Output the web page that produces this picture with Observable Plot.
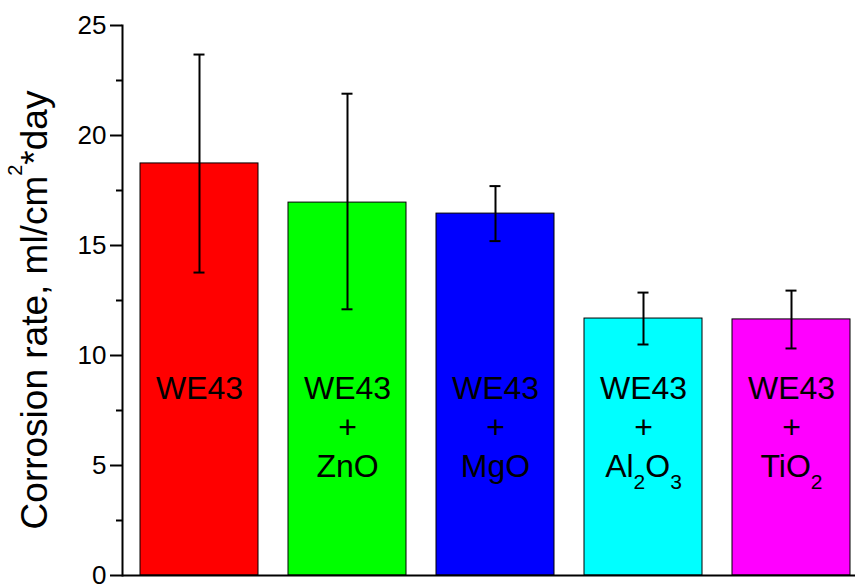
<!DOCTYPE html>
<html>
<head>
<meta charset="utf-8">
<script src="https://cdn.jsdelivr.net/npm/d3@7"></script>
<script src="https://cdn.jsdelivr.net/npm/@observablehq/plot@0.6"></script>
<style>
  html, body { margin: 0; padding: 0; background: #fff; }
  #chart { width: 855px; height: 584px; }
</style>
</head>
<body>
<div id="chart"></div>
<script>
// ---- data ----
const categories = ["WE43", "WE43+ZnO", "WE43+MgO", "WE43+Al2O3", "WE43+TiO2"];
const additives = ["", "ZnO", "MgO", "Al2O3", "TiO2"];
const meanRate = [18.73, 16.95, 16.45, 11.68, 11.64];
const errLow = [13.77, 12.1, 15.2, 10.5, 10.32];
const errHigh = [23.68, 21.9, 17.7, 12.86, 12.95];
const barColors = ["#ff0000", "#00ff00", "#0000ff", "#00ffff", "#ff00ff"];
const yTicks = [0, 5, 10, 15, 20, 25];
const yMinorTicks = [2.5, 7.5, 12.5, 17.5, 22.5];
const yTitle = ["Corrosion rate, ml/cm", "2", "*day"];

const rows = categories.map((c, i) => ({
  cat: c,
  add: additives[i],
  mean: meanRate[i],
  lo: errLow[i],
  hi: errHigh[i],
  color: barColors[i],
  label: additives[i] ? "WE43\n+\n" + additives[i] : "WE43"
}));

const LABEL_Y = 9.3;
const FONT = "'Liberation Sans', Arial, Helvetica, sans-serif";

const plot = Plot.plot({
  width: 855,
  height: 584,
  marginLeft: 122,
  marginRight: 0,
  marginTop: 25,
  marginBottom: 9,
  style: { fontFamily: FONT, background: "white", color: "black", overflow: "visible" },
  x: { domain: categories, range: [122, 869], paddingInner: 0.2, paddingOuter: 0.11, axis: null },
  y: { domain: [0, 25], label: null },
  marks: [
    Plot.barY(rows, { x: "cat", y: "mean", fill: "color", stroke: "black", strokeWidth: 1 }),
    Plot.ruleX(rows, { x: "cat", y1: "lo", y2: "hi", stroke: "black", strokeWidth: 2 }),
    Plot.tickY(rows, { x: "cat", y: "hi", stroke: "black", strokeWidth: 2, insetLeft: 53.5, insetRight: 53.5 }),
    Plot.tickY(rows, { x: "cat", y: "lo", stroke: "black", strokeWidth: 2, insetLeft: 53.5, insetRight: 53.5 }),
    Plot.text(rows, { x: "cat", y: () => LABEL_Y, text: "label", lineAnchor: "top", lineHeight: 1.22, fontSize: 32, fill: "black" }),
    Plot.axisY({ ticks: yTicks, tickSize: 12, tickPadding: 4, fontSize: 26, strokeWidth: 2, stroke: "black", fill: "black", label: null }),
    Plot.axisY({ ticks: yMinorTicks, tickSize: 6, text: null, strokeWidth: 2, stroke: "black", label: null }),
    Plot.frame({ anchor: "left", strokeWidth: 2, stroke: "black" }),
    Plot.ruleY([0], { stroke: "black", strokeWidth: 2 })
  ]
});

document.getElementById("chart").appendChild(plot);

// subscripts for chemical formulas
const SVGNS = "http://www.w3.org/2000/svg";
plot.querySelectorAll("tspan").forEach(ts => {
  const t = ts.textContent;
  if (additives.includes(t) && /\d/.test(t)) {
    ts.textContent = "";
    const parts = t.split(/(\d+)/).filter(s => s.length);
    let shifted = false;
    parts.forEach(p => {
      const s = document.createElementNS(SVGNS, "tspan");
      s.textContent = p;
      if (/^\d+$/.test(p)) {
        s.setAttribute("font-size", "21");
        s.setAttribute("dy", "12");
        shifted = true;
      } else if (shifted) {
        s.setAttribute("dy", "-12");
        shifted = false;
      }
      ts.appendChild(s);
    });
  }
});

// y-axis title with superscript
const y = plot.scale("y");
const cy = (y.apply(0) + y.apply(25)) / 2 + 10;
const title = document.createElementNS(SVGNS, "text");
title.setAttribute("transform", `translate(47,${cy}) rotate(-90)`);
title.setAttribute("text-anchor", "middle");
title.setAttribute("font-size", "37");
title.setAttribute("font-family", FONT);
title.setAttribute("fill", "black");
const t1 = document.createElementNS(SVGNS, "tspan"); t1.textContent = yTitle[0];
const t2 = document.createElementNS(SVGNS, "tspan"); t2.textContent = yTitle[1];
t2.setAttribute("font-size", "20"); t2.setAttribute("dy", "-25");
const t3 = document.createElementNS(SVGNS, "tspan"); t3.textContent = yTitle[2];
t3.setAttribute("dy", "25");
title.append(t1, t2, t3);
plot.appendChild(title);
</script>
</body>
</html>
